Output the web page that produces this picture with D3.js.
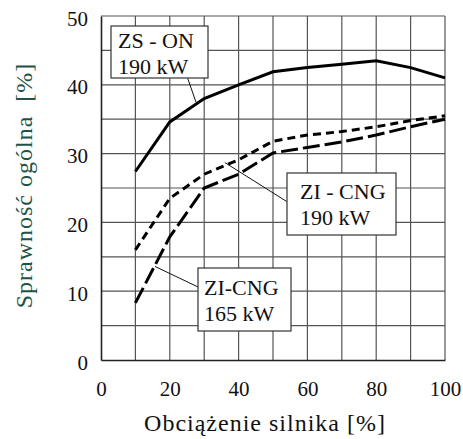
<!DOCTYPE html>
<html>
<head>
<meta charset="utf-8">
<script src="https://cdn.jsdelivr.net/npm/d3@7"></script>
<style>
  body { margin: 0; background: #fff; }
</style>
</head>
<body>
<div id="chart"></div>
<script>
// load levels [%]
var loads = [10, 20, 30, 40, 50, 60, 70, 80, 90, 100];
// overall efficiency [%]
var zsOn190  = [27.4, 34.6, 38.0, 40.0, 41.9, 42.5, 43.0, 43.5, 42.5, 41.0];
var ziCng190 = [16.0, 23.5, 27.0, 29.1, 31.8, 32.7, 33.2, 33.9, 34.8, 35.5];
var ziCng165 = [8.3, 17.9, 25.0, 27.0, 30.1, 30.9, 31.7, 32.7, 33.9, 35.0];
var xTicks = [0, 20, 40, 60, 80, 100];
var yTicks = [0, 10, 20, 30, 40, 50];

var serif = "'Liberation Serif'";

var W = 463, H = 439;
var margin = {top: 16, right: 18, bottom: 79, left: 101};
var width = W - margin.left - margin.right,
    height = H - margin.top - margin.bottom;

var svg = d3.select("#chart").append("svg")
    .attr("width", W).attr("height", H)
  .append("g")
    .attr("transform", `translate(${margin.left},${margin.top})`);

var x = d3.scaleLinear().domain([0, 100]).range([0, width]);
var y = d3.scaleLinear().domain([0, 50]).range([height, 0]);

// grid
svg.append("g").selectAll("line")
    .data(d3.range(10, 101, 10))
    .join("line")
    .attr("x1", d => x(d)).attr("x2", d => x(d))
    .attr("y1", 0).attr("y2", height)
    .attr("stroke", "#555").attr("stroke-width", 1.2);
svg.append("g").selectAll("line")
    .data(d3.range(5, 51, 5))
    .join("line")
    .attr("x1", 0).attr("x2", width)
    .attr("y1", d => y(d)).attr("y2", d => y(d))
    .attr("stroke", "#555").attr("stroke-width", 1.2);

// axes
var xAxis = svg.append("g")
    .attr("transform", `translate(0,${height})`)
    .call(d3.axisBottom(x).tickValues(xTicks).tickSize(0).tickPadding(21));
var yAxis = svg.append("g")
    .call(d3.axisLeft(y).tickValues(yTicks).tickSize(0).tickPadding(13));
[xAxis, yAxis].forEach(function(a){
  a.select(".domain").attr("stroke", "#222").attr("stroke-width", 1.6);
  a.selectAll("text")
    .style("font-family", serif)
    .attr("font-size", 21).attr("fill", "#111");
});
yAxis.selectAll("text").attr("dy", "0.43em");

// series
function series(vals, dash) {
  svg.append("path")
    .datum(loads.map((l, i) => [l, vals[i]]))
    .attr("fill", "none")
    .attr("stroke", "#000")
    .attr("stroke-width", 3)
    .attr("stroke-dasharray", dash)
    .attr("d", d3.line().x(d => x(d[0])).y(d => y(d[1])));
}
series(zsOn190, null);
series(ziCng190, "8,5");
series(ziCng165, "17,5");

// callout labels
function callout(bx, by, bw, bh, lines, tx, ty, from, to) {
  svg.append("line")
    .attr("x1", from[0]).attr("y1", from[1])
    .attr("x2", x(to[0])).attr("y2", y(to[1]))
    .attr("stroke", "#111").attr("stroke-width", 1);
  svg.append("rect")
    .attr("x", bx).attr("y", by).attr("width", bw).attr("height", bh)
    .attr("fill", "#fff").attr("stroke", "#333").attr("stroke-width", 1.2);
  svg.append("text")
    .style("font-family", serif)
    .attr("font-size", 22).attr("fill", "#111")
    .selectAll("tspan").data(lines).join("tspan")
    .attr("x", bx + tx).attr("y", (d, i) => by + ty + i * 26)
    .text(d => d);
}
callout(10, 10, 97, 52, ["ZS - ON", "190 kW"], 7, 22, [86.7, 62.3], [27.6, 37.5]);
callout(186, 157, 109, 62, ["ZI - CNG", "190 kW"], 13, 26, [186, 185.7], [36, 28.7]);
callout(97, 252, 93, 63, ["ZI-CNG", "165 kW"], 6, 27, [97, 271], [15.7, 13.6]);

// axis titles
svg.append("text")
    .attr("x", 164).attr("y", height + 71)
    .attr("text-anchor", "middle")
    .style("font-family", serif)
    .style("letter-spacing", "1px")
    .attr("font-size", 24).attr("fill", "#111")
    .text("Obciążenie silnika [%]");
svg.append("text")
    .attr("transform", `translate(${-69},${169.5}) rotate(-90)`)
    .attr("text-anchor", "middle")
    .style("font-family", serif)
    .style("white-space", "pre")
    .style("letter-spacing", "1px")
    .attr("font-size", 24).attr("fill", "#1e5348")
    .text("Sprawność ogólna  [%]");
</script>
</body>
</html>
